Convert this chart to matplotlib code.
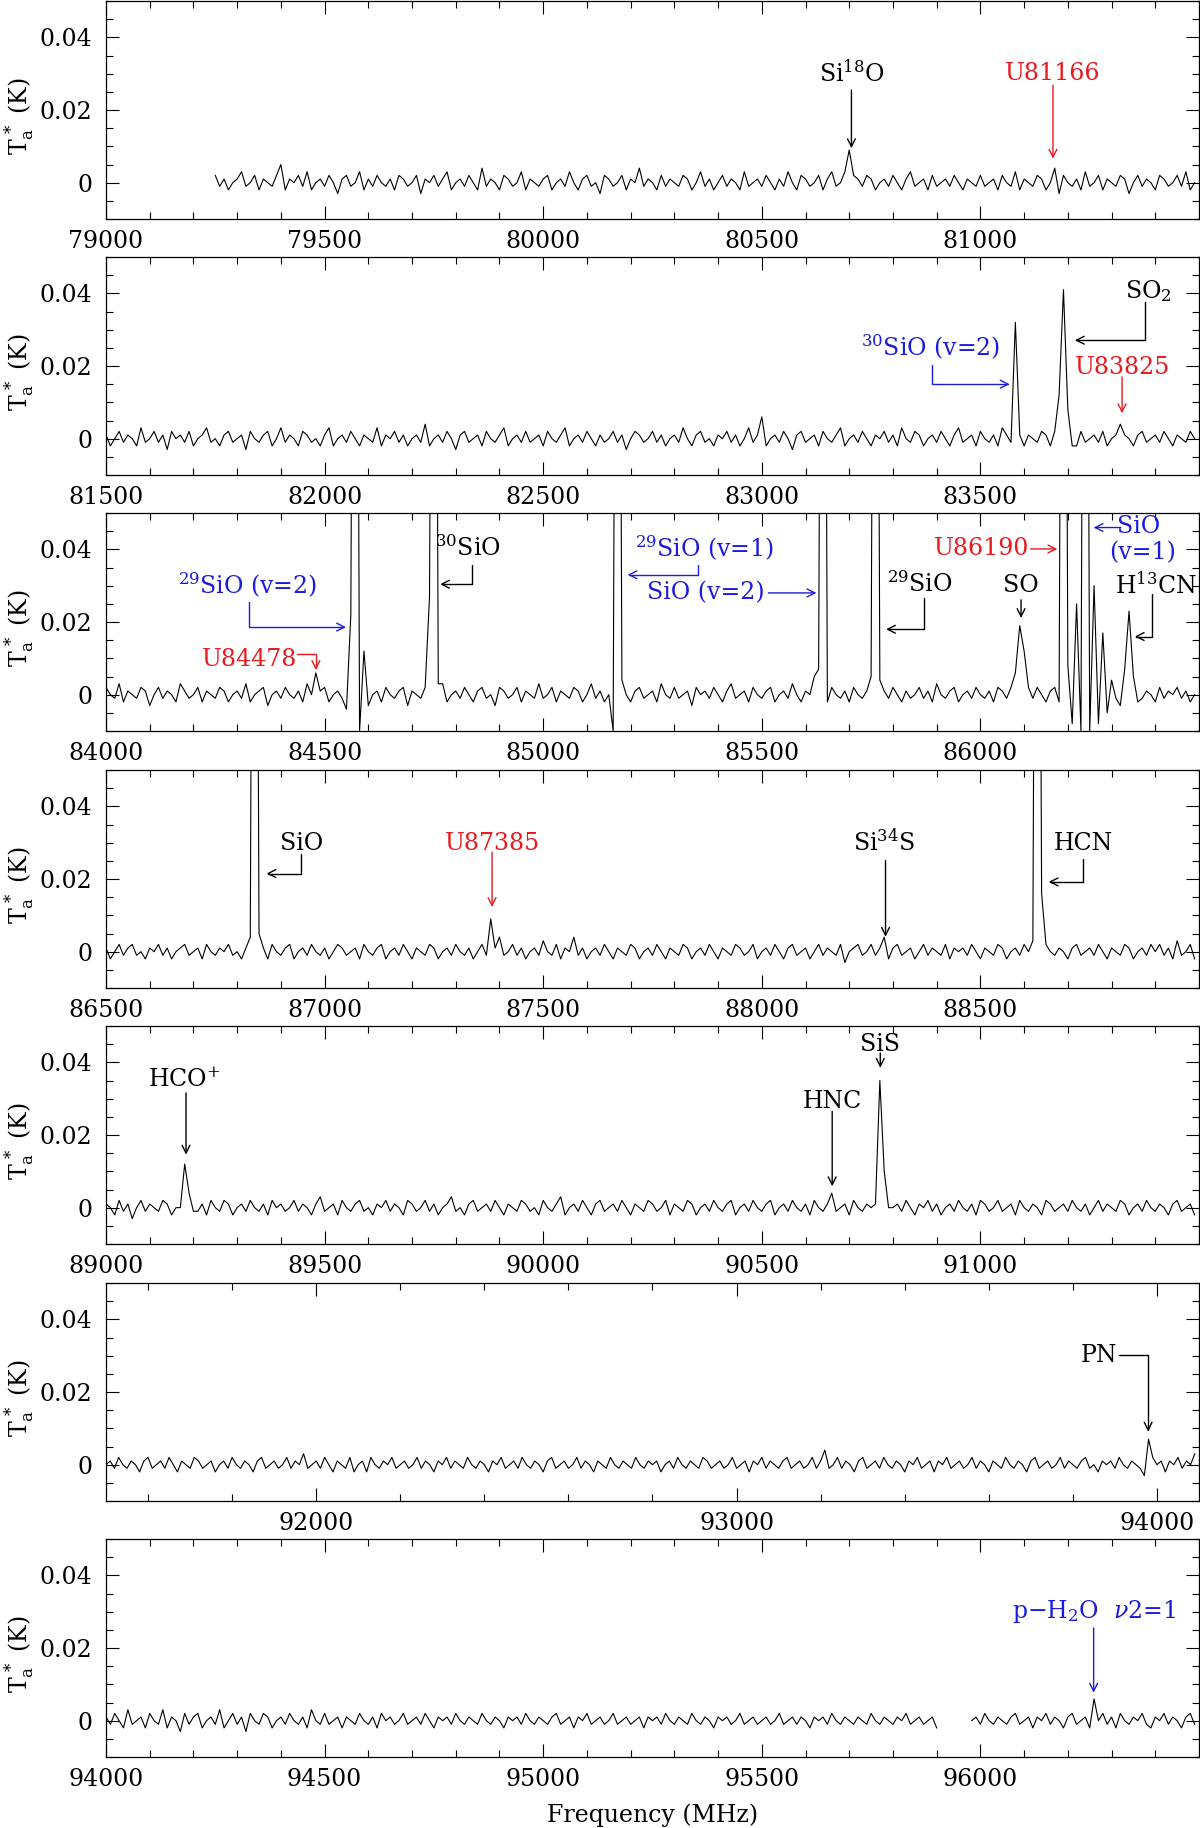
import numpy as np
import matplotlib
matplotlib.use('Agg')
import matplotlib.pyplot as plt
from matplotlib.ticker import MultipleLocator

plt.rcParams['font.family'] = ['DejaVu Serif']
plt.rcParams['mathtext.fontset'] = 'dejavuserif'

# ---- data (baseline noise in mK, 10 MHz channels) ----
step = 10.0
ranges = [(79000, 81500), (81500, 84000), (84000, 86500), (86500, 89000),
          (89000, 91500), (91500, 94100), (94000, 96500)]
starts = [79250, 81500, 84000, 86500, 89000, 91500, 94000]

noise1 = [
 2,-1,1,-2,0, 1,3,-1,0,2, -2,1,0,-1,2, 5,-2,1,0,2, -1,3,-2,0,1,
 -1,2,0,-3,1, 2,-1,0,3,-2, 1,-1,2,0,-1, 1,-2,2,1,-1, 0,2,-3,1,0,
 2,-1,1,3,-2, 0,1,-1,2,0, -2,4,-1,1,0, -2,2,1,-1,0, 3,-2,1,0,-1,
 1,2,-2,0,1, -1,3,0,-2,1, 2,-1,0,-3,2, 1,-1,0,2,-2, 1,0,4,-1,1,
 0,-2,2,-1,1, 0,-1,2,1,-2, 0,3,-1,1,-2, 0,2,-1,1,0, -2,3,-1,0,1,
 -1,2,0,-2,1, -1,3,0,-2,2, 1,-1,0,2,-2, 1,3,-1,0,-2, 2,0,1,-1,2,
 1,-2,0,1,-1, 2,0,-2,1,3, -1,0,1,-2,2, -1,0,1,-1,2, 0,-2,1,0,-1,
 2,-1,0,1,-2, 2,0,-1,3,-2, 1,0,-1,2,1, -2,0,1,-1,2, 0,-1,1,-2,3,
 -1,0,2,-2,1, 0,-1,2,1,-3, 0,2,-1,1,0, -2,2,1,-1,0, 2,-1,3,-2,0,
]
noise2 = [
 1,-2,0,2,-1, 1,0,-2,3,-1, 0,2,-1,1,-3, 2,0,1,-1,2, -2,0,1,3,-1,
 0,-2,1,2,-1, 0,1,-3,2,0, -1,1,2,-2,0, 3,-1,1,0,-2, 2,1,-1,0,-2,
 1,3,-2,0,1, -1,2,0,-2,1, 0,-1,3,-2,1, 0,2,-1,1,-2, 0,1,-1,4,-2,
 0,1,-1,2,0, -3,1,2,-1,0, 1,-2,2,0,-1, 1,3,-2,0,1, -1,2,-1,0,1,
 -2,2,0,-1,1, 3,-2,0,1,-1, 2,0,-2,1,-1, 0,2,-1,1,-3, 0,2,1,-1,0,
 2,-1,1,-2,0, 1,-1,3,0,-2, 1,2,-1,0,-2, 1,0,2,-1,1, -2,0,3,-1,1,
 6,-2,0,1,-1, 2,0,-3,1,2, -1,0,1,-2,2, 0,-1,1,3,-2, 0,1,-1,2,0,
 -2,1,0,2,-1, 1,-2,3,0,-1, 2,1,-2,0,1, -1,2,0,-2,1, 3,-1,0,1,-2,
 2,0,-1,1,-2, 3,1,-1,0,2, -2,1,0,-1,2, 1,-2,0,3,-1, 1,0,-2,2,-1,
 0,1,-1,2,-2, 0,1,3,-1,0, -2,1,2,-1,0, 1,-1,2,0,-2, 1,0,-1,2,0,
]
noise3 = [
 2,0,-1,3,-2, 1,0,-1,2,1, -3,0,2,-1,1, 0,-2,3,1,-1, 0,2,-2,1,0,
 -1,2,1,-2,0, 1,-1,3,-2,0, 1,2,-3,0,1, -1,2,0,-1,1, -2,3,0,-1,1,
 2,-2,0,1,-1, 3,0,-2,1,2, -1,0,1,-2,2, 0,-1,1,2,-3, 1,0,-1,2,0,
 -1,1,3,-2,0, 1,-1,2,0,-2, 1,2,-1,0,-3, 2,1,-1,0,2, -2,1,0,-1,3,
 -1,0,2,-2,1, 0,-1,2,1,-2, 0,3,-1,1,-2, 0,2,-1,1,0, -2,1,2,-1,0,
 1,-2,3,0,-1, 2,-1,0,1,-3, 2,0,1,-1,2, 0,-2,1,3,-1, 0,1,-2,2,0,
 -1,1,2,-2,0, 1,-1,3,0,-2, 1,0,2,-1,-3, 1,2,0,-1,1, -2,2,0,-1,1,
 3,-2,0,1,-1, 2,0,-2,1,-1, 0,2,-1,1,-2, 3,0,-1,1,2, -2,0,1,-1,2,
 0,-1,1,-2,2, 1,-1,0,3,-2, 1,0,-1,2,0, -2,1,2,-1,0, 1,-3,2,0,1,
 -1,2,0,-2,1, 0,-1,2,1,-2, 0,3,-1,1,0, -2,2,-1,1,0, 2,-1,1,-2,0,
]
noise4 = [
 1,-2,0,2,-1, 1,2,-1,0,-2, 1,0,2,-1,1, -2,0,1,2,-1, 0,1,-2,2,0,
 -1,1,0,2,-1, 0,-2,1,3,-1, 0,1,-2,2,0, -1,1,2,-2,0, 1,-1,2,0,-1,
 1,-2,0,2,1, -1,0,1,-2,2, 0,-1,1,2,-2, 0,1,-1,2,0, -2,1,0,-1,2,
 1,-2,0,1,-1, 2,0,-1,1,-2, 0,2,-1,1,0, 4,-1,0,2,-1, 1,-2,0,1,-1,
 3,0,-1,2,-2, 1,0,4,-1,1, -2,0,1,-1,2, 0,-2,1,0,-1, 2,1,-2,0,1,
 -1,2,0,-2,1, 0,-1,2,1,-2, 0,1,-1,2,0, -2,1,0,-1,2, 1,-1,0,2,-2,
 0,1,-1,2,0, -2,1,2,-1,0, 1,-2,0,2,-1, 1,0,-1,2,-3, 0,1,2,-1,0,
 2,-1,1,0,-2, 1,2,-1,0,1, -2,0,2,-1,1, 0,-1,2,-2,1, 0,1,-1,2,0,
 -2,1,0,-1,2, 1,-2,0,1,-1, 2,0,-1,1,-2, 2,0,-1,1,0, -2,1,2,-1,0,
 1,-1,2,0,-2, 1,0,-1,2,1, -2,0,1,-1,2, 0,2,-1,1,-2, 3,-1,0,2,-2,
]
noise5 = [
 1,0,-2,2,-1, 1,-3,0,2,-1, 1,0,-1,2,1, -2,0,1,-1,2, 0,-1,1,-2,2,
 0,-1,2,1,-2, 0,1,-1,2,0, -1,1,-2,2,0, 1,-1,0,2,-1, 1,0,-2,1,3,
 -1,0,1,-2,2, 0,-1,1,2,-1, 0,-2,1,0,2, -1,1,0,-2,2, 1,-1,0,2,-1,
 1,-2,0,1,3, -1,0,-2,1,2, -1,0,1,-1,2, 0,-2,1,0,-1, 2,1,-1,0,-2,
 2,0,-1,1,3, -2,0,1,-1,2, 0,-2,1,2,-1, 0,1,-1,2,0, -2,1,0,-1,2,
 1,-1,0,2,-2, 1,0,-1,2,1, -2,0,1,-1,2, 0,-1,1,2,-2, 0,1,-1,2,0,
 -1,1,2,-2,0, 1,-1,2,0,-1, 1,-2,2,0,-1, 1,2,-1,0,1, -2,2,0,-1,1,
 0,-1,2,1,-2, 0,1,-1,2,0, -2,1,0,2,-1, 1,-2,0,1,-1, 2,0,-1,1,-2,
 2,1,-1,0,2, -1,0,1,-2,2, 0,-1,1,0,-2, 2,1,-1,0,1, -1,2,0,-1,1,
 -2,0,2,-1,1, 0,-1,2,1,-2, 0,1,-1,2,0, -1,1,0,-2,1, 2,-1,0,1,-2,
]
noise6 = [
 0,1,-1,2,0, -1,1,0,-2,1, 2,-1,0,1,-1, 2,0,-2,1,0, -1,2,1,-1,0,
 1,-2,0,1,-1, 2,0,-1,1,0, -2,1,2,-1,0, 1,-1,0,2,-1, 1,0,3,-1,0,
 1,-1,2,0,-2, 1,0,-1,2,-2, 0,1,-2,2,0, -1,1,0,2,-1, 0,1,-1,0,2,
 -1,1,0,-2,1, 0,2,-1,1,0, -1,2,0,-1,1, 0,-2,1,0,2, -1,0,1,-1,2,
 0,-1,1,0,-2, 1,2,-1,0,1, -1,0,2,-1,1, 0,-2,1,0,-1, 2,0,-1,1,0,
 -1,2,0,-1,1, 0,1,-2,0,1, -1,2,0,-1,1, 0,-1,2,1,-1, 0,1,-1,0,2,
 -1,0,1,-2,1, 0,2,-1,1,0, -1,1,2,-1,0, 1,-1,0,2,-1, 1,3,-1,0,2,
 -1,1,0,-2,1, 2,-1,0,1,-1, 2,0,-1,1,0, -2,1,0,2,-1, 0,1,-2,1,0,
 2,-1,0,1,-1, 0,2,-1,1,0, -2,1,0,-1,2, 0,-1,1,0,-2, 1,2,-1,0,1,
 -1,0,2,-1,1, 0,-1,1,2,-1, 0,-2,1,0,1, -1,2,0,-1,1, 0,-1,2,1,-1,
 0,1,-2,1,0, 2,-1,1,0,3,
]
noise7 = [
 1,-1,2,0,-2, 3,-1,0,1,-2, 2,0,-1,3,-2, 1,0,-3,2,-1, 1,2,-2,0,1,
 -1,3,-2,0,2, -1,1,-3,2,0, -1,2,1,-2,0, 1,-1,2,0,-1, 1,-2,3,0,-1,
 2,-1,0,1,-2, 1,0,-1,2,0, -1,1,-2,2,0, 1,-1,0,2,-1, 0,1,-1,2,0,
 -2,1,0,1,-1, 2,0,-1,1,0, -1,2,0,-1,1, 0,-2,1,0,1, -1,2,0,-1,1,
 0,-1,1,2,-1, 0,1,-2,1,0, 2,-1,0,1,-1, 0,2,-1,0,1, -1,0,1,-2,1,
 0,1,-1,2,0, -1,1,0,-1,2, 0,-1,1,0,-2, 1,0,1,-1,0, 2,-1,0,1,-1,
 0,1,-1,0,2, -1,0,1,-1,1, 0,-2,1,0,1, -1,2,0,-1,1, 0,-1,1,0,-1,
 2,0,-1,1,0, -1,1,0,2,-1, 0,1,-1,0,1, -2,1,0,-1,2, 0,1,-1,0,1,
 -1,2,0,-1,1, 0,-1,1,2,-1, 0,1,-2,1,0, 2,-1,1,0,-2, 1,2,-1,0,1,
 -2,1,0,2,-1, 1,-2,2,0,-1, 1,0,2,-1,-2, 1,0,2,-1,1, 0,-2,1,2,-1,
]

# line channels: (frequency of first channel, values in mK); 300 = off scale
lines1 = [(80690, [3, 9, 2]), (81160, [0, 4, -3])]
lines2 = [(83570, [-1, 32, 1]), (83670, [2, 12, 41, 8, -2]), (83820, [4, 1])]
lines3 = [(84480, [6]),
          (84550, [-4, 22, 300, -10, 12, -3]),
          (84730, [2, 27, 300, 3]),
          (85160, [-10, 300, 4]),
          (85620, [5, 7, 300, -2]),
          (85750, [5, 300, 4]),
          (86070, [2, 6, 19, 12, 2]),
          (86180, [-2, 300, 8, -8, 25, -10, 300, -10, 30, -8, 17, -5, 4]),
          (86320, [-3, 7, 23, 5, -2])]
lines4 = [(86830, [4, 300, 5]), (87380, [9, 1]), (88280, [4]),
          (88620, [3, 300, 16, 2])]
lines5 = [(89170, [0, 12, 4, -1]), (90660, [4]), (90760, [1, 35, 10, 0])]
lines6 = [(93210, [4]), (93970, [-3, 7, 2])]
lines7 = [(96260, [6])]
gap7 = (95905, 95975)

noises = [noise1, noise2, noise3, noise4, noise5, noise6, noise7]
lines = [lines1, lines2, lines3, lines4, lines5, lines6, lines7]


def build(start, noise, lns):
    x = start + step * np.arange(len(noise))
    y = np.array(noise, dtype=float)
    for f, vals in lns:
        i = int(round((f - start) / step))
        y[i:i + len(vals)] = vals
    return x, y / 1000.0


RED = '#e8191f'
BLUE = '#1c1cdc'
FS = 17


def note(ax, x, y, s, c='k', **kw):
    ax.text(x, y, s, color=c, ha='center', va='center', fontsize=FS, **kw)


def arrow(ax, x1, y1, x2, y2, c='k', cs='arc3'):
    ax.annotate('', xy=(x2, y2), xytext=(x1, y1),
                arrowprops=dict(arrowstyle='->', color=c, lw=1.0,
                                shrinkA=0, shrinkB=0, mutation_scale=14,
                                connectionstyle=cs))


DOWN_LEFT = 'angle,angleA=90,angleB=0,rad=0'   # vertical then horizontal
RIGHT_DOWN = 'angle,angleA=0,angleB=90,rad=0'  # horizontal then vertical

fig = plt.figure(figsize=(12, 18.28), dpi=100)
W, H = 1200.0, 1828.0
tops = [1, 257, 513, 770, 1026, 1283, 1539]
axes = []
for k in range(7):
    ax = fig.add_axes([106 / W, 1 - (tops[k] + 218) / H, 1093 / W, 218 / H])
    axes.append(ax)
    x0, x1 = ranges[k]
    x, y = build(starts[k], noises[k], lines[k])
    if k == 6:
        y[(x > gap7[0]) & (x < gap7[1])] = np.nan
    ax.plot(x, y, color='k', lw=0.8)
    ax.set_xlim(x0, x1)
    ax.set_ylim(-0.01, 0.05)
    major = 1000 if k == 5 else 500
    minor = 200 if k == 5 else 100
    first = np.ceil(x0 / major) * major
    ax.set_xticks(np.arange(first, x1, major))
    ax.set_xticklabels(['%d' % t for t in np.arange(first, x1, major)])
    ax.xaxis.set_minor_locator(MultipleLocator(minor))
    ax.set_yticks([0, 0.02, 0.04])
    ax.set_yticklabels(['0', '0.02', '0.04'])
    ax.yaxis.set_minor_locator(MultipleLocator(0.005))
    ax.tick_params(which='both', direction='in', top=True, right=True,
                   width=0.8, labelsize=FS)
    ax.tick_params(which='major', length=9.5)
    ax.tick_params(which='minor', length=5)
    ax.tick_params(axis='x', pad=8)
    ax.tick_params(axis='y', pad=10)
    for sp in ax.spines.values():
        sp.set_linewidth(0.9)
    ax.set_ylabel(r'T$_{\rm a}^{\,*}$ (K)', fontsize=FS)
    ax.yaxis.set_label_coords(-0.064, 0.47)

# panel 1
ax = axes[0]
note(ax, 80705, 0.0300, r'Si$^{18}$O')
arrow(ax, 80705, 0.0255, 80705, 0.0095)
note(ax, 81166, 0.0300, 'U81166', RED)
arrow(ax, 81166, 0.0268, 81166, 0.0066, RED)

# panel 2
ax = axes[1]
note(ax, 83885, 0.0405, r'SO$_2$')
arrow(ax, 83877, 0.0375, 83716, 0.0271, cs=DOWN_LEFT)
note(ax, 83386, 0.0250, r'$^{30}$SiO (v=2)', BLUE)
arrow(ax, 83389, 0.0202, 83567, 0.0150, BLUE, cs=DOWN_LEFT)
note(ax, 83824, 0.0197, 'U83825', RED)
arrow(ax, 83824, 0.0170, 83824, 0.0070, RED)

# panel 3
ax = axes[2]
note(ax, 84323, 0.0300, r'$^{29}$SiO (v=2)', BLUE)
arrow(ax, 84326, 0.0256, 84549, 0.0186, BLUE, cs=DOWN_LEFT)
note(ax, 84329, 0.0098, 'U84478', RED)
arrow(ax, 84436, 0.0112, 84480, 0.0068, RED, cs=RIGHT_DOWN)
note(ax, 84827, 0.0403, r'$^{30}$SiO')
arrow(ax, 84838, 0.0357, 84764, 0.0304, cs=DOWN_LEFT)
note(ax, 85368, 0.0403, r'$^{29}$SiO (v=1)', BLUE)
arrow(ax, 85355, 0.0357, 85193, 0.0330, BLUE, cs=DOWN_LEFT)
note(ax, 85373, 0.0280, 'SiO (v=2)', BLUE)
arrow(ax, 85515, 0.0280, 85625, 0.0280, BLUE)
note(ax, 85861, 0.0305, r'$^{29}$SiO')
arrow(ax, 85872, 0.0266, 85784, 0.0180, cs=DOWN_LEFT)
note(ax, 86093, 0.0300, 'SO')
arrow(ax, 86093, 0.0261, 86093, 0.0211)
note(ax, 86003, 0.0401, 'U86190', RED)
arrow(ax, 86115, 0.0401, 86176, 0.0401, RED)
arrow(ax, 86321, 0.0460, 86259, 0.0460, BLUE)
note(ax, 86362, 0.0462, 'SiO', BLUE)
note(ax, 86371, 0.0390, '(v=1)', BLUE)
note(ax, 86401, 0.0302, r'H$^{13}$CN')
arrow(ax, 86393, 0.0277, 86353, 0.0160, cs=DOWN_LEFT)

# panel 4
ax = axes[3]
note(ax, 86947, 0.0298, 'SiO')
arrow(ax, 86946, 0.0270, 86867, 0.0215, cs=DOWN_LEFT)
note(ax, 87383, 0.0298, 'U87385', RED)
arrow(ax, 87383, 0.0274, 87383, 0.0123, RED)
note(ax, 88280, 0.0302, r'Si$^{34}$S')
arrow(ax, 88283, 0.0251, 88283, 0.0041)
note(ax, 88735, 0.0298, 'HCN')
arrow(ax, 88735, 0.0256, 88656, 0.0192, cs=DOWN_LEFT)

# panel 5
ax = axes[4]
note(ax, 89180, 0.0352, r'HCO$^{{+}}$')
arrow(ax, 89183, 0.0316, 89183, 0.0146)
note(ax, 90661, 0.0292, 'HNC')
arrow(ax, 90661, 0.0265, 90661, 0.0059)
note(ax, 90771, 0.0449, 'SiS')
arrow(ax, 90771, 0.0426, 90771, 0.0385)

# panel 6
ax = axes[5]
note(ax, 93862, 0.0301, 'PN')
arrow(ax, 93910, 0.0301, 93979, 0.0091, cs=RIGHT_DOWN)

# panel 7
ax = axes[6]
note(ax, 96259, 0.0301, r'p$-$H$_2$O  $\nu$2=1', BLUE)
arrow(ax, 96259, 0.0255, 96259, 0.0077, BLUE)

fig.text(653 / W, 1 - 1815 / H, 'Frequency (MHz)', ha='center', va='center',
         fontsize=FS)

fig.savefig('out.png', dpi=100)
